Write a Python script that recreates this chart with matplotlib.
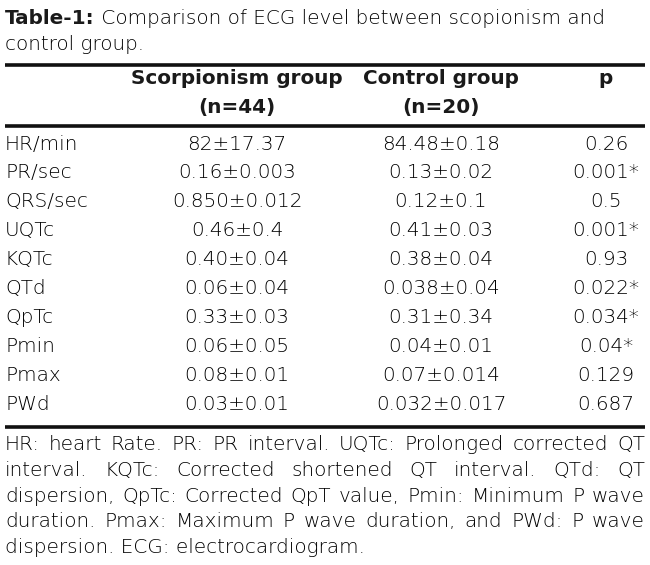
import matplotlib
matplotlib.use('Agg')
import matplotlib.pyplot as plt

plt.rcParams['font.family'] = ['DejaVu Sans']

title_bold = 'Table-1:'
title_rest = ' Comparison of ECG level between scopionism and'
title_line2 = 'control group.'

headers = ['Scorpionism group\n(n=44)', 'Control group\n(n=20)', 'p']

params = ['HR/min', 'PR/sec', 'QRS/sec', 'UQTc', 'KQTc', 'QTd', 'QpTc',
          'Pmin', 'Pmax', 'PWd']
scorp = ['82±17.37', '0.16±0.003', '0.850±0.012', '0.46±0.4', '0.40±0.04',
         '0.06±0.04', '0.33±0.03', '0.06±0.05', '0.08±0.01', '0.03±0.01']
control = ['84.48±0.18', '0.13±0.02', '0.12±0.1', '0.41±0.03', '0.38±0.04',
           '0.038±0.04', '0.31±0.34', '0.04±0.01', '0.07±0.014', '0.032±0.017']
pvals = ['0.26', '0.001*', '0.5', '0.001*', '0.93', '0.022*', '0.034*',
         '0.04*', '0.129', '0.687']

footnote = [
    'HR: heart Rate. PR: PR interval. UQTc: Prolonged corrected QT',
    'interval. KQTc: Corrected shortened QT interval. QTd: QT',
    'dispersion, QpTc: Corrected QpT value, Pmin: Minimum P wave',
    'duration. Pmax: Maximum P wave duration, and PWd: P wave',
    'dispersion. ECG: electrocardiogram.',
]

W, H = 650, 565
fig = plt.figure(figsize=(W / 100, H / 100), dpi=100)
ax = fig.add_axes([0, 0, 1, 1])
ax.set_xlim(0, W)
ax.set_ylim(H, 0)
ax.axis('off')

col = '#000000'
rule_col = '#111111'
left, right = 5, 645
fs = 14.4
wt = 'light'

fig.canvas.draw()
renderer = fig.canvas.get_renderer()


def width_px(t):
    return t.get_window_extent(renderer=renderer).width


# title
t1 = ax.text(left, 18, title_bold, fontsize=fs, fontweight='bold', color='#1a1a1a',
             va='center', ha='left')
w1 = width_px(t1)
ax.text(left + w1, 18, title_rest, fontsize=fs, fontweight=wt, color=col,
        va='center', ha='left')
ax.text(left, 44, title_line2, fontsize=fs, fontweight=wt, color=col,
        va='center', ha='left')

# rules
for y in [65, 126, 427]:
    ax.plot([left, right], [y, y], color=rule_col, lw=2.6, solid_capstyle='butt')

# header
col_x = [237, 441, 606]
for x, h in zip(col_x, headers):
    lines = h.split('\n')
    for k, s in enumerate(lines):
        ax.text(x, 78 + k * 29, s, fontsize=fs, fontweight='bold', color='#1a1a1a',
                ha='center', va='center')

# body
row_y0, row_dy = 144, 28.9
for i in range(len(params)):
    y = row_y0 + i * row_dy
    ax.text(left, y, params[i], fontsize=fs, fontweight=wt, color=col,
            va='center', ha='left')
    ax.text(col_x[0], y, scorp[i], fontsize=fs, fontweight=wt, color=col,
            va='center', ha='center')
    ax.text(col_x[1], y, control[i], fontsize=fs, fontweight=wt, color=col,
            va='center', ha='center')
    ax.text(col_x[2], y, pvals[i], fontsize=fs, fontweight=wt, color=col,
            va='center', ha='center')

# footnote, justified except the last line
foot_y0, foot_dy = 445, 25.6
for i, line in enumerate(footnote):
    y = foot_y0 + i * foot_dy
    if i == len(footnote) - 1:
        ax.text(left, y, line, fontsize=fs, fontweight=wt, color=col,
                va='center', ha='left')
        continue
    words = line.split(' ')
    texts = [ax.text(0, y, w, fontsize=fs, fontweight=wt, color=col,
                     va='center', ha='left') for w in words]
    widths = [width_px(t) for t in texts]
    gap = (right - left - sum(widths)) / (len(words) - 1)
    x = left
    for t, w in zip(texts, widths):
        t.set_x(x)
        x += w + gap

fig.savefig('out.png', dpi=100)
